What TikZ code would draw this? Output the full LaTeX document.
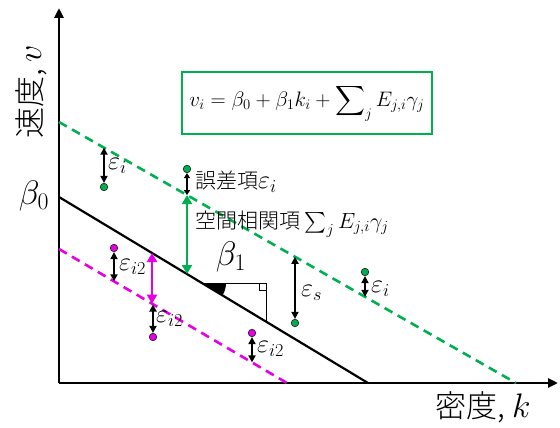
\RequirePackage{fix-cm}
\documentclass[tikz,border=0pt]{standalone}
\usepackage{amsmath}
\usepackage{fontspec}
\newfontfamily\jpfont{Noto Sans CJK JP Light}
\usetikzlibrary{arrows.meta, positioning}
\definecolor{regGreen}{RGB}{0,176,80}
\definecolor{regMagenta}{RGB}{230,0,230}
\newcommand{\mth}[1]{{\fontsize{22}{25}\selectfont$#1$}}
\newcommand{\eps}[1]{{\fontsize{26}{28}\selectfont$\varepsilon_{#1}$}}

\begin{document}
\begin{tikzpicture}[x=1pt, y=-1pt,
    axis/.style={line width=2.6pt, -{Triangle[length=10pt, width=9pt]}},
    obsgreen/.style={circle, draw=black!85, fill=regGreen, line width=0.7pt, inner sep=0pt, minimum size=7.5pt},
    obsmag/.style={circle, draw=black!85, fill=regMagenta, line width=0.7pt, inner sep=0pt, minimum size=7.5pt},
    errarrow/.style={line width=1.8pt, {Triangle[length=7pt, width=7pt]}-{Triangle[length=7pt, width=7pt]}},
    bigarrow/.style={line width=2.6pt, {Triangle[length=9pt, width=10pt]}-{Triangle[length=9pt, width=10pt]}},
    lbl/.style={anchor=west, inner sep=0pt, font=\fontsize{21}{24}\selectfont}]
    \useasboundingbox (0,0) rectangle (560,428);

    % axes
    \coordinate (origin) at (59,383);
    \coordinate (ytip) at (59,8);
    \coordinate (xtip) at (558,383);
    \draw [axis] (origin) -- (ytip);
    \draw [axis] (origin) -- (xtip);
    \node (ylabel) [rotate=90, font=\fontsize{31}{34}\selectfont] at (31,92) {\jpfont 速度, {\fontsize{34}{36}\selectfont$v$}};
    \node (xlabel) [font=\fontsize{31}{34}\selectfont] at (483,407) {\jpfont 密度, {\fontsize{34}{36}\selectfont$k$}};

    % regression lines
    \coordinate (b0) at (59,197);
    \coordinate (bend) at (368,383);
    \coordinate (g0) at (59,122);
    \coordinate (gend) at (516,383);
    \coordinate (m0) at (59,249);
    \coordinate (mend) at (287,383);
    \draw [line width=2.2pt] (b0) -- (bend);
    \draw [regGreen, line width=2.6pt, dash pattern=on 9pt off 6pt] (g0) -- (gend);
    \draw [regMagenta, line width=2.6pt, dash pattern=on 9pt off 6pt] (m0) -- (mend);
    \node (beta0) [font=\fontsize{34}{38}\selectfont] at (34,196) {$\beta_0$};

    % slope marker
    \coordinate (sa) at (203,283);
    \coordinate (sc) at (266,283);
    \coordinate (sf) at (266,321.6);
    \fill (sa) -- +(23,0) arc [start angle=0, end angle=31, radius=23] -- cycle;
    \draw [line width=1pt] (sa) -- (sc) -- (sf);
    \draw [line width=0.8pt] (259,283) -- (259,290) -- (266,290);
    \node (beta1) [font=\fontsize{34}{38}\selectfont] at (231,257) {$\beta_1$};

    % model
    \node (model) [draw=regGreen, line width=2.6pt, minimum width=250pt, minimum height=62pt,
        font=\fontsize{21}{24}\selectfont] at (307,103)
        {$\displaystyle v_i = \beta_0 + \beta_1 k_i + \sum\nolimits_j E_{j,i}\gamma_j$};

    % green observations
    \node (ga) [obsgreen] at (104,187) {};
    \coordinate (ga') at (104,147.7);
    \draw [errarrow] (ga') -- (ga);
    \node (la) [lbl] at (108,166) {\eps{i}};

    \node (gb) [obsgreen] at (187,169) {};
    \coordinate (gb') at (187,195.1);
    \coordinate (bb) at (187,274);
    \draw [errarrow, line width=1.5pt, {Triangle[length=5pt, width=6pt]}-{Triangle[length=5pt, width=6pt]}] (gb) -- (gb');
    \draw [bigarrow, regGreen] (bb) -- (gb');
    \node (lb) [lbl] at (195,182) {\jpfont 誤差項\eps{i}};
    \node (lsp) [lbl] at (195,224) {\jpfont 空間相関項 \mth{\sum_j E_{j,i}\gamma_j}};

    \node (gc) [obsgreen] at (295,323) {};
    \coordinate (gc') at (295,256.8);
    \draw [errarrow] (gc') -- (gc);
    \node (lc) [lbl] at (301,293) {\eps{s}};

    \node (gd) [obsgreen] at (365,272) {};
    \coordinate (gd') at (365,296.8);
    \draw [errarrow] (gd) -- (gd');
    \node (ld) [lbl] at (371,289) {\eps{i}};

    % magenta observations
    \node (ma) [obsmag] at (114,248) {};
    \coordinate (ma') at (114,281.3);
    \draw [errarrow] (ma) -- (ma');
    \node (lma) [lbl] at (119,267) {\eps{i2}};

    \coordinate (mb0) at (152,253);
    \coordinate (mb1) at (152,303.7);
    \draw [bigarrow, regMagenta] (mb0) -- (mb1);

    \node (mc) [obsmag] at (153,337) {};
    \coordinate (mc') at (153,304.5);
    \draw [errarrow] (mc') -- (mc);
    \node (lmc) [lbl] at (156,319) {\eps{i2}};

    \node (md) [obsmag] at (252,333) {};
    \coordinate (md') at (252,362.4);
    \draw [errarrow] (md) -- (md');
    \node (lmd) [lbl] at (257,349) {\eps{i2}};
\end{tikzpicture}
\end{document}
